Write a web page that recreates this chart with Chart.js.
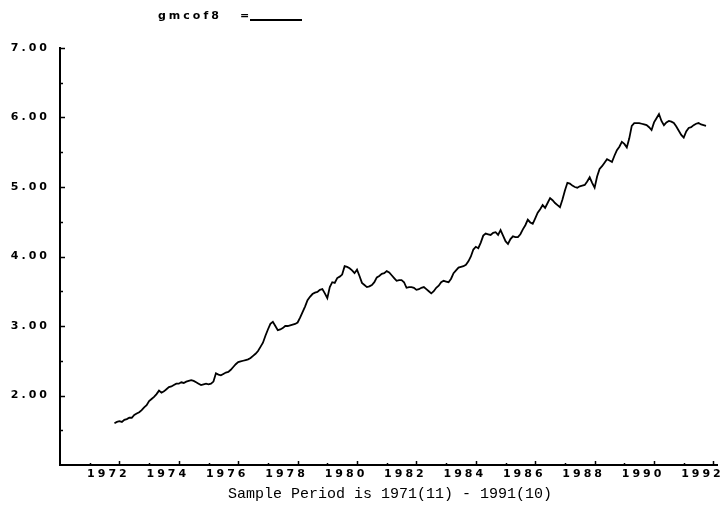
<!DOCTYPE html>
<html>
<head>
<meta charset="utf-8">
<script src="https://cdn.jsdelivr.net/npm/chart.js@4/dist/chart.umd.min.js"></script>
<style>
html,body{margin:0;padding:0;background:#fff;}
#wrap{width:720px;height:512px;}
</style>
</head>
<body>
<div id="wrap"><canvas id="c" width="720" height="512"></canvas></div>
<script>
// ---- data ----
const seriesName = "gmcof8";
const axisTitle = "Sample Period is 1971(11) - 1991(10)";
const startYear = 1971;
const startMonth = 11;
const gmcof8 = [
1.60,1.62,1.63,1.62,1.65,1.66,1.68,1.68,1.72,1.74,1.76,1.79,
1.83,1.86,1.92,1.95,1.98,2.02,2.07,2.04,2.06,2.09,2.12,2.13,
2.15,2.17,2.17,2.19,2.18,2.20,2.21,2.22,2.21,2.19,2.17,2.15,
2.16,2.17,2.16,2.17,2.20,2.32,2.30,2.29,2.31,2.33,2.34,2.37,
2.41,2.45,2.48,2.49,2.50,2.51,2.52,2.54,2.57,2.60,2.64,2.70,
2.76,2.86,2.95,3.03,3.06,3.00,2.94,2.95,2.97,3.00,3.00,3.01,
3.02,3.03,3.05,3.12,3.20,3.28,3.37,3.42,3.46,3.48,3.49,3.52,
3.53,3.47,3.40,3.56,3.63,3.62,3.69,3.71,3.74,3.86,3.85,3.83,
3.80,3.76,3.81,3.72,3.62,3.59,3.56,3.57,3.59,3.63,3.70,3.72,
3.75,3.76,3.79,3.77,3.73,3.69,3.65,3.66,3.66,3.63,3.55,3.56,
3.56,3.55,3.52,3.53,3.55,3.56,3.53,3.50,3.47,3.50,3.55,3.58,
3.63,3.65,3.64,3.63,3.68,3.76,3.80,3.84,3.85,3.86,3.88,3.93,
4.00,4.10,4.14,4.12,4.20,4.30,4.33,4.32,4.31,4.34,4.35,4.31,
4.38,4.30,4.22,4.18,4.25,4.29,4.28,4.28,4.32,4.39,4.45,4.53,
4.49,4.47,4.55,4.63,4.68,4.74,4.70,4.77,4.84,4.81,4.77,4.74,
4.71,4.82,4.95,5.06,5.05,5.02,5.00,4.99,5.01,5.02,5.03,5.08,
5.14,5.06,4.99,5.15,5.26,5.30,5.35,5.40,5.38,5.36,5.45,5.53,
5.58,5.65,5.62,5.57,5.70,5.88,5.92,5.92,5.92,5.91,5.90,5.89,
5.86,5.82,5.93,5.99,6.05,5.95,5.89,5.93,5.95,5.94,5.92,5.87,
5.81,5.75,5.71,5.80,5.85,5.86,5.89,5.91,5.92,5.90,5.89,5.88
];
const xTickYears = [1970,1971,1972,1973,1974,1975,1976,1977,1978,1979,1980,1981,1982,1983,1984,1985,1986,1987,1988,1989,1990,1991,1992];
const xLabelYears = [1972,1974,1976,1978,1980,1982,1984,1986,1988,1990,1992];
const yTickValues = [1,1.5,2,2.5,3,3.5,4,4.5,5,5.5,6,6.5,7];
const yLabelValues = [2,3,4,5,6,7];

const points = gmcof8.map((v,i)=>({x: startYear + (startMonth-1)/12 + i/12, y: v}));

const tickFont = {family:"'DejaVu Sans', sans-serif", size:11, weight:'bold'};
const SPACING = '3px';

const decorPlugin = {
  id:'decor',
  beforeDraw(chart){ chart.ctx.letterSpacing = SPACING; },
  beforeDatasetsDraw(chart){ chart.ctx.letterSpacing = '0px'; },
  afterDraw(chart){
    const ctx = chart.ctx;
    const xs = chart.scales.x, ys = chart.scales.y;
    const a = chart.chartArea;
    ctx.save();
    ctx.letterSpacing = '0px';
    ctx.strokeStyle = '#000';
    ctx.lineWidth = 1.5;
    // inward x ticks
    xTickYears.forEach(yr=>{
      if (yr <= xs.min) return;
      const px = Math.round(xs.getPixelForValue(yr)) + 0.5;
      const len = (yr % 2 === 0) ? 4 : 2;
      ctx.beginPath(); ctx.moveTo(px, a.bottom); ctx.lineTo(px, a.bottom - len); ctx.stroke();
    });
    // inward y ticks
    yTickValues.forEach(v=>{
      if (v <= ys.min) return;
      const py = Math.round(ys.getPixelForValue(v)) + 0.5;
      const len = Number.isInteger(v) ? 5 : 3;
      ctx.beginPath(); ctx.moveTo(a.left, py); ctx.lineTo(a.left + len, py); ctx.stroke();
    });
    // legend
    ctx.fillStyle = '#000';
    ctx.font = "bold 11px 'DejaVu Sans', sans-serif";
    ctx.letterSpacing = SPACING;
    ctx.textBaseline = 'middle';
    ctx.textAlign = 'left';
    ctx.fillText(seriesName, 158, 16);
    ctx.fillText('=', 240, 16);
    ctx.letterSpacing = '0px';
    ctx.lineWidth = 2;
    ctx.beginPath(); ctx.moveTo(250, 20); ctx.lineTo(302, 20); ctx.stroke();
    // axis title
    ctx.font = "15px 'Liberation Mono', monospace";
    ctx.textAlign = 'center';
    ctx.fillText(axisTitle, 390, 494);
    ctx.restore();
  }
};

new Chart(document.getElementById('c'), {
  type:'line',
  data:{ datasets:[{
    label: seriesName,
    data: points,
    borderColor:'#000',
    borderWidth:1.8,
    pointRadius:0,
    tension:0,
    fill:false
  }]},
  options:{
    responsive:false,
    animation:false,
    events:[],
    layout:{padding:{left:0,right:3,top:48,bottom:0}},
    plugins:{legend:{display:false},tooltip:{enabled:false},title:{display:false}},
    scales:{
      x:{
        type:'linear', min:1970, max:1992.12,
        afterBuildTicks(s){ s.ticks = xTickYears.map(v=>({value:v})); },
        afterFit(s){ s.height = 47; s.paddingLeft = 0; s.paddingRight = 0; },
        grid:{display:false, drawTicks:false},
        border:{display:true, color:'#000', width:2},
        ticks:{
          autoSkip:false, maxRotation:0, minRotation:0,
          padding:3, labelOffset:-11, color:'#000', font:tickFont,
          callback:(v)=> xLabelYears.includes(v) ? String(v) : ''
        }
      },
      y:{
        type:'linear', min:1, max:7,
        afterBuildTicks(s){ s.ticks = yTickValues.filter(Number.isInteger).map(v=>({value:v})); },
        afterFit(s){ s.width = 60; s.paddingTop = 0; s.paddingBottom = 0; },
        grid:{display:false, drawTicks:false},
        border:{display:true, color:'#000', width:2},
        ticks:{
          padding:10, color:'#000', font:tickFont,
          callback:(v)=> yLabelValues.includes(v) ? v.toFixed(2) : ''
        }
      }
    }
  },
  plugins:[decorPlugin]
});
</script>
</body>
</html>
